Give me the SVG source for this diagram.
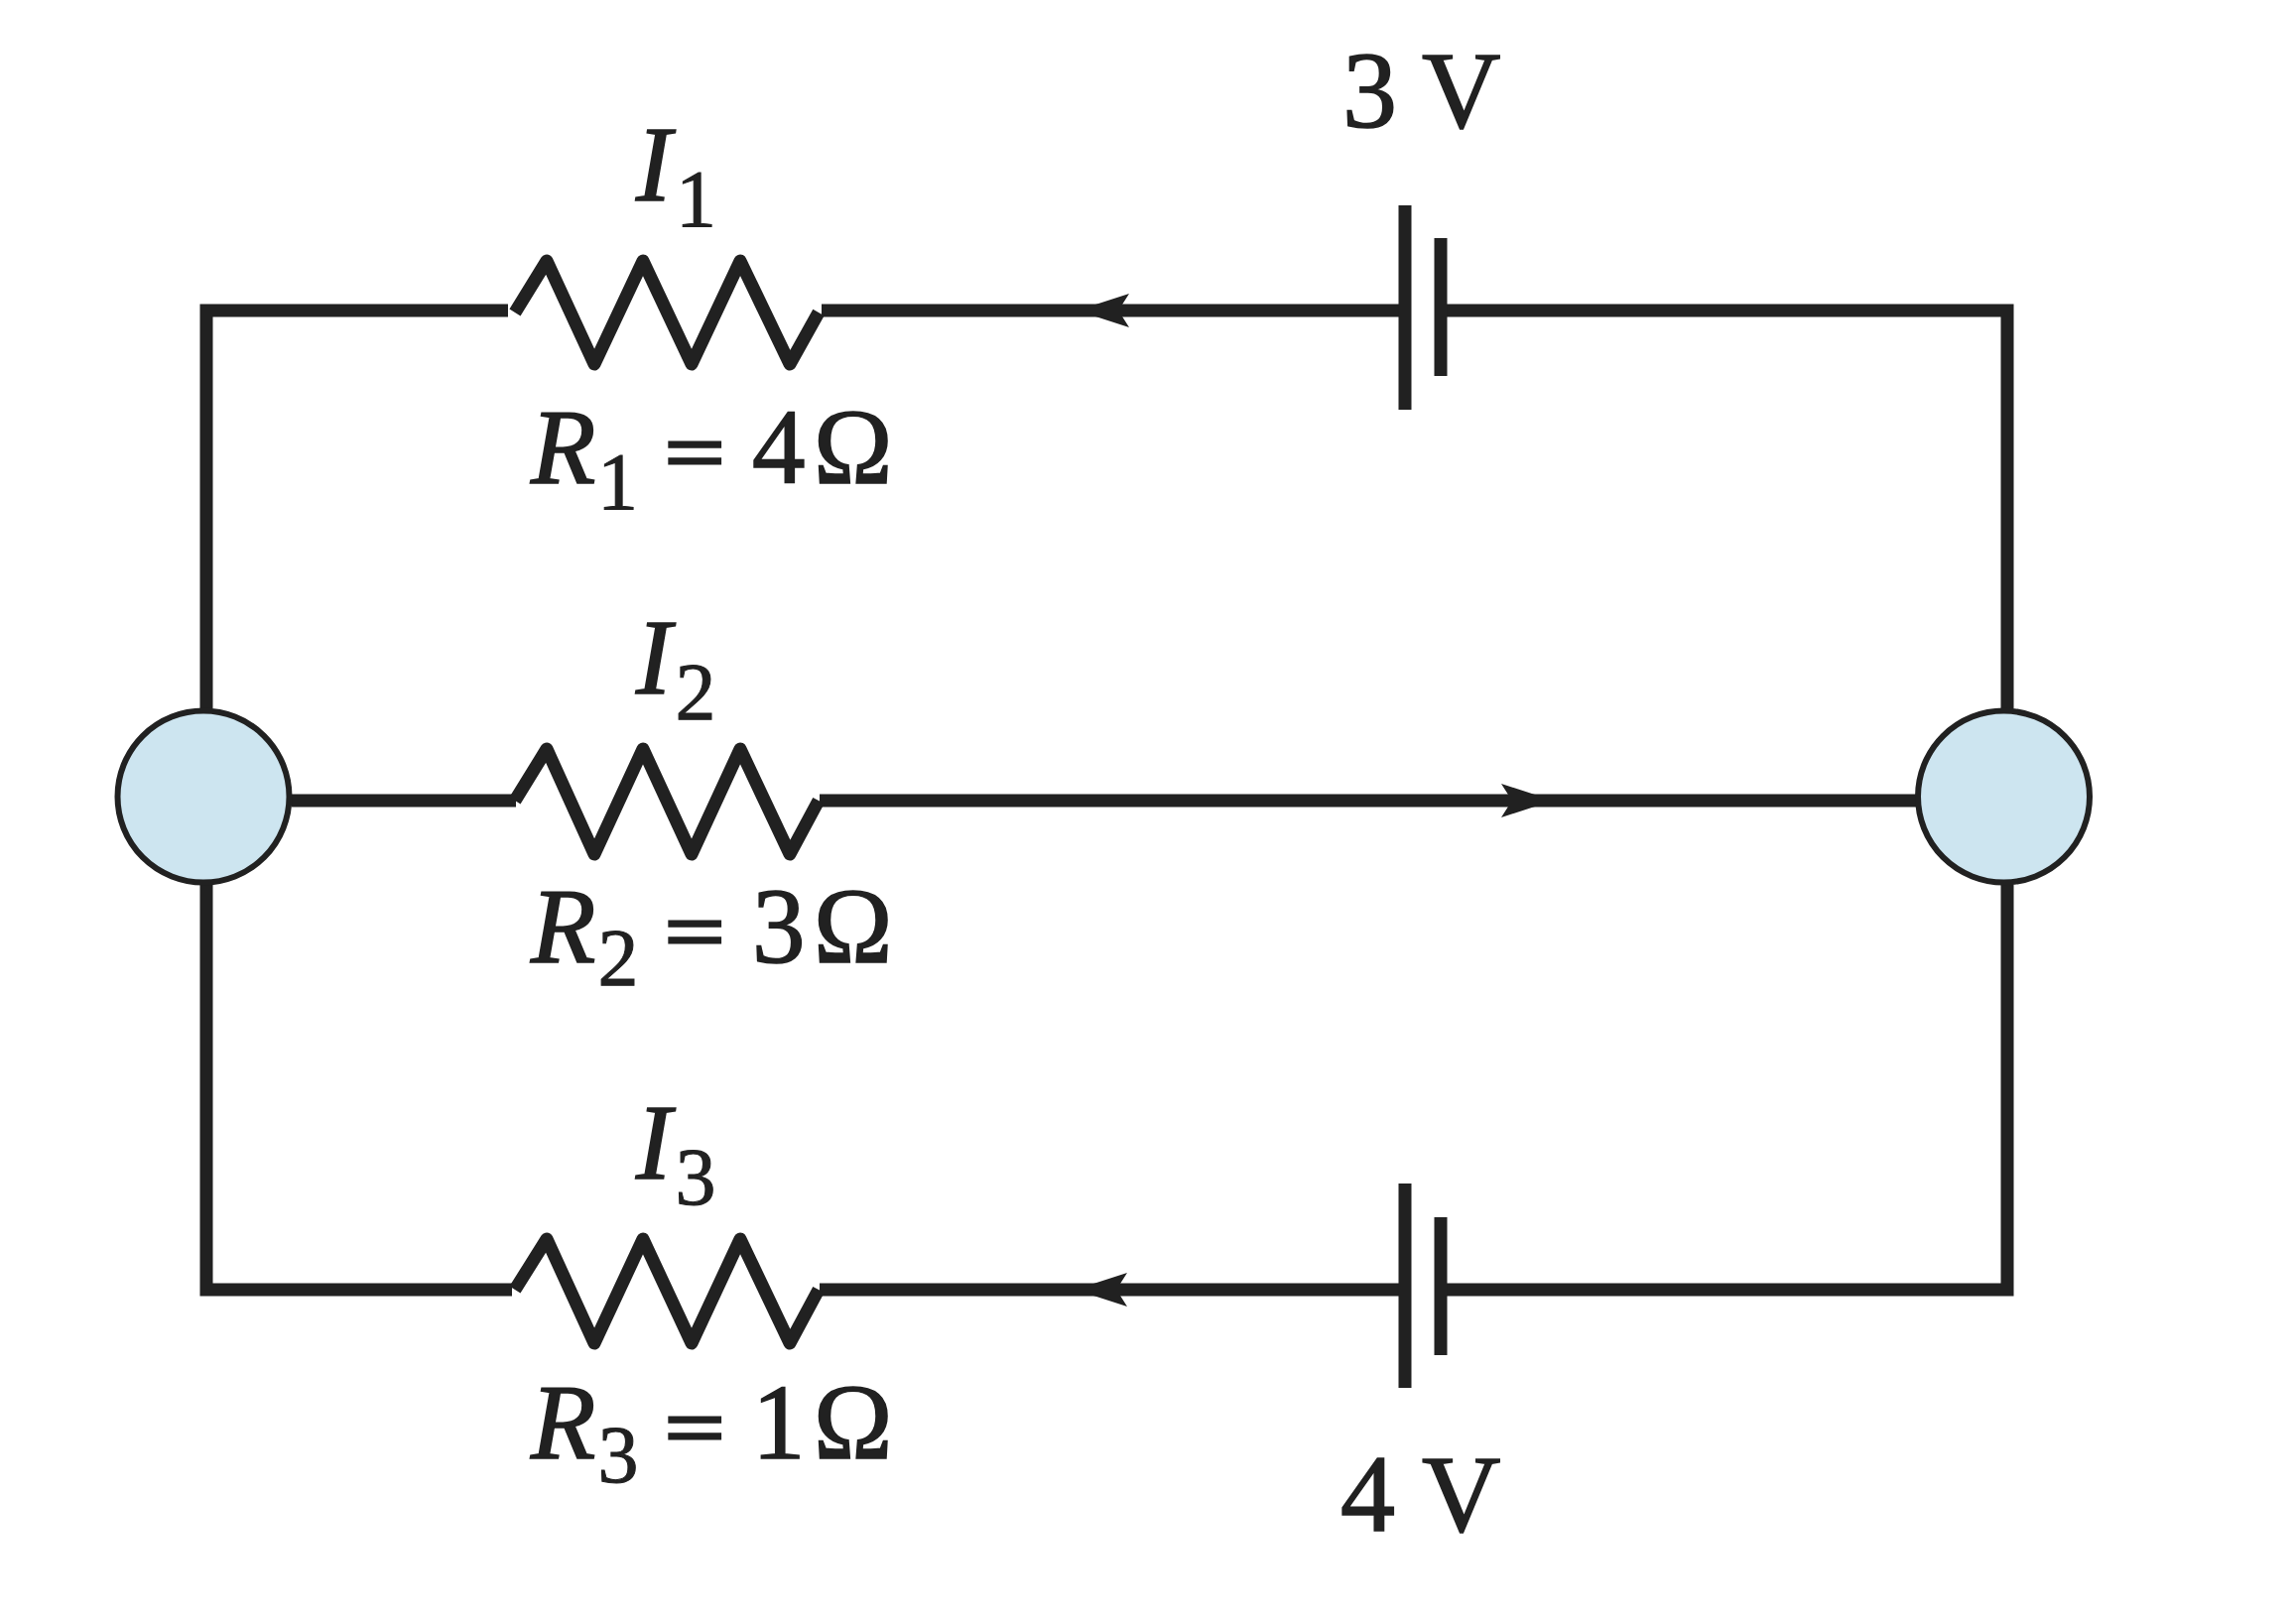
<svg xmlns="http://www.w3.org/2000/svg" width="2314" height="1633" viewBox="0 0 2314 1633">
<style>
.w{fill:none;stroke:#212121;stroke-width:13;stroke-linejoin:miter}
.r{fill:none;stroke:#212121;stroke-width:13;stroke-linejoin:round}
.p{stroke:#212121;stroke-width:13}
.j{fill:#cde5f0;stroke:#212121;stroke-width:6}
text{font-family:"Liberation Serif","Times New Roman",serif;fill:#212121;stroke:#212121;stroke-width:1.6}
.m{font-size:107px}
.s{font-size:82px;stroke-width:1}
.v{font-size:110px}
.i{font-style:italic}
.e{stroke-width:4}
</style>
<defs>
<marker id="a" markerUnits="userSpaceOnUse" viewBox="-1 -18 37 36" refX="0" refY="0" markerWidth="37" markerHeight="36" orient="auto">
<path d="M0-17L34-6V6L0 17L7 6V-6Z" fill="#212121"/>
</marker>
</defs>
<rect width="2314" height="1633" fill="#fff"/>
<g id="connectors">
<path class="w" d="M512 313H208V714"/>
<path class="w" d="M1416 313H1138L828 313" marker-mid="url(#a)"/>
<path class="w" d="M1452 313H2023V714"/>
<path class="w" d="M294 807H520"/>
<path class="w" d="M826 807H1513L1932 807" marker-mid="url(#a)"/>
<path class="w" d="M208 892V1300H516"/>
<path class="w" d="M1416 1300H1136L826 1300" marker-mid="url(#a)"/>
<path class="w" d="M1452 1300H2023V892"/>
</g>
<g id="junction-left"><circle class="j" cx="205" cy="803" r="86.5"/></g>
<g id="junction-right"><circle class="j" cx="2019.5" cy="803" r="86.5"/></g>
<g id="resistor-1">
<path class="r" d="M519 315L551 263L599 367L648 263L697 367L746 263L796 367L825 315"/>
<text class="m i" x="641" y="202">I</text><text class="s" x="681" y="228">1</text>
<text class="m i" x="535" y="487">R</text><text class="s" x="602" y="513">1</text>
<text class="m e" transform="translate(670 484) scale(1 .77)">=</text><text class="m" x="758" y="487">4</text><text class="m" x="820" y="487">Ω</text>
</g>
<g id="resistor-2">
<path class="r" d="M519 807L551 755L599 861L648 755L697 861L746 755L796 861L825 807"/>
<text class="m i" x="641" y="699">I</text><text class="s" x="680.5" y="725">2</text>
<text class="m i" x="535" y="970">R</text><text class="s" x="602.5" y="993">2</text>
<text class="m e" transform="translate(670 967) scale(1 .77)">=</text><text class="m" x="758" y="970">3</text><text class="m" x="820" y="970">Ω</text>
</g>
<g id="resistor-3">
<path class="r" d="M519 1300L551 1249L599 1354L648 1249L697 1354L746 1249L796 1354L825 1300"/>
<text class="m i" x="641" y="1188">I</text><text class="s" x="680.5" y="1214">3</text>
<text class="m i" x="535" y="1470">R</text><text class="s" x="602.5" y="1494">3</text>
<text class="m e" transform="translate(670 1467) scale(1 .77)">=</text><text class="m" x="758" y="1470">1</text><text class="m" x="820" y="1470">Ω</text>
</g>
<g id="battery-1">
<path class="p" d="M1416 207V413M1452 240V379"/>
<text class="v" x="1353" y="128">3</text><text class="v" x="1433" y="128">V</text>
</g>
<g id="battery-2">
<path class="p" d="M1416 1193V1399M1452 1227V1366"/>
<text class="v" x="1351" y="1543">4</text><text class="v" x="1433" y="1543">V</text>
</g>
</svg>
